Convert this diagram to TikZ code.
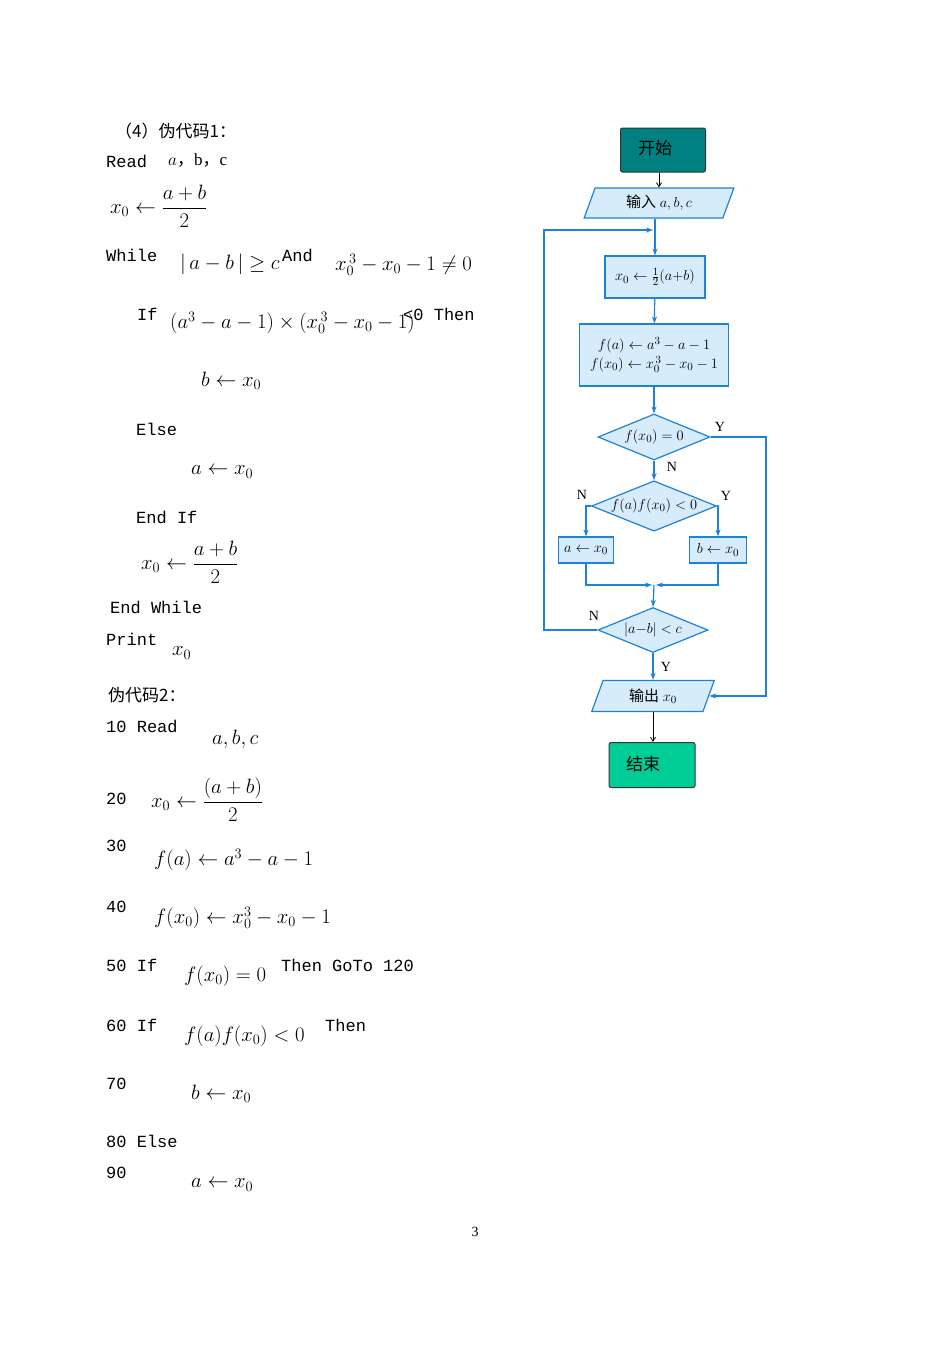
\documentclass[tikz,border=0pt]{standalone}
\usepackage{amsmath}
\usepackage{fontspec}
\setmainfont{Liberation Serif}
\setmonofont{Liberation Mono}
\newfontfamily\cjk{Noto Sans CJK SC}
\usetikzlibrary{shapes.geometric,arrows.meta}
\begin{document}
\begin{tikzpicture}[x=1pt,y=-1pt,
  every node/.style={inner sep=0pt,font=\fontsize{20}{22}\selectfont},
  t/.style={anchor=west},
  kw/.style={anchor=west,font=\fontsize{17}{19}\selectfont\ttfamily},
  fbox/.style={draw=fcl,fill=fbl,line width=1.2pt,inner sep=0pt,font=\fontsize{15}{17}\selectfont},
  fdia/.style={diamond,aspect=2.4,draw=fcl,fill=fbl,line width=1.2pt,inner sep=0pt,font=\fontsize{15}{17}\selectfont},
  fpar/.style={trapezium,trapezium left angle=70,trapezium right angle=110,draw=fcl,fill=fbl,line width=1.2pt,inner sep=0pt,font=\fontsize{15}{17}\selectfont},
  lab/.style={font=\fontsize{14}{16}\selectfont},
  fl/.style={draw=fcl,line width=1.2pt,-{Stealth[length=7pt,width=5pt]}},
  fp/.style={draw=fcl,line width=1.2pt},
  bl/.style={draw=black,line width=0.8pt,-{Straight Barb[length=4pt,width=5pt]}}]
\definecolor{fcl}{RGB}{30,130,215}
\definecolor{fbl}{RGB}{214,236,250}
\useasboundingbox (0,0) rectangle (950,1350);
\fill[white] (0,0) rectangle (950,1350);
% ---- pseudocode 1
\node[t,font=\fontsize{17}{19}\selectfont\cjk] (h1) at (115,131) {（4）伪代码1：};
\node[kw] (r1) at (106,161) {Read};
\node[t,font=\fontsize{17}{19}\selectfont] (r1b) at (168,161) {$a${\cjk ，}b{\cjk ，}c};
\node[t] (l2) at (110,206) {$x_0\leftarrow\dfrac{a+b}{2}$};
\node[kw] (w1) at (106,255) {While};
\node[t] (w2) at (180,264) {$|\,a-b\,|\geq c$};
\node[kw] (w3) at (282,255) {And};
\node[t] (w4) at (335,265) {$x_0^{\,3}-x_0-1\neq 0$};
\node[kw] (i1) at (137,314) {If};
\node[t] (i2) at (170,323) {$(a^3-a-1)\times(x_0^{\,3}-x_0-1)$};
\node[kw] (i3) at (403,314) {<0 Then};
\node[t] (b1) at (201,381) {$b\leftarrow x_0$};
\node[kw] (e1) at (136,429) {Else};
\node[t] (a1) at (191,472) {$a\leftarrow x_0$};
\node[kw] (ei) at (136,517) {End If};
\node[t] (l3) at (141,562) {$x_0\leftarrow\dfrac{a+b}{2}$};
\node[kw] (ew) at (110,607) {End While};
\node[kw] (pr) at (106,639) {Print};
\node[t] (px) at (172,653) {$x_0$};
% ---- pseudocode 2
\node[t,font=\fontsize{17}{19}\selectfont\cjk] (h2) at (108,695) {伪代码2：};
\node[kw] (n10) at (106,726) {10  Read};
\node[t] (n10b) at (212,739) {$a,b,c$};
\node[kw] (n20) at (106,799) {20};
\node[t] (n20b) at (151,800) {$x_0\leftarrow\dfrac{(a+b)}{2}$};
\node[kw] (n30) at (106,846) {30};
\node[t] (n30b) at (154,860) {$f(a)\leftarrow a^3-a-1$};
\node[kw] (n40) at (106,907) {40};
\node[t] (n40b) at (154,918) {$f(x_0)\leftarrow x_0^3-x_0-1$};
\node[kw] (n50) at (106,965) {50  If};
\node[t] (n50b) at (184,976) {$f(x_0)=0$};
\node[kw] (n50c) at (281,965) {Then GoTo 120};
\node[kw] (n60) at (106,1025) {60  If};
\node[t] (n60b) at (184,1036) {$f(a)f(x_0)<0$};
\node[kw] (n60c) at (325,1025) {Then};
\node[kw] (n70) at (106,1084) {70};
\node[t] (n70b) at (191,1094) {$b\leftarrow x_0$};
\node[kw] (n80) at (106,1141) {80  Else};
\node[kw] (n90) at (106,1173) {90};
\node[t] (n90b) at (191,1185) {$a\leftarrow x_0$};
\node[font=\fontsize{14}{16}\selectfont] (pg) at (475,1232) {3};
% ---- flowchart
\node[draw=black!80,fill={rgb,255:red,0;green,128;blue,128},rounded corners=2pt,minimum width=85pt,minimum height=44pt,line width=1pt] (st) at (663,150) {};
\node[font=\fontsize{17}{19}\selectfont\cjk] (stt) at (655,148) {开始};
\node[fpar,minimum width=92pt,minimum height=30pt] (in) at (659,203) {{\cjk 输入} $a,b,c$};
\node[fbox,minimum width=100pt,minimum height=42pt] (p1) at (655,277) {$x_0\leftarrow\frac{1}{2}(a{+}b)$};
\node[fbox,minimum width=149pt,minimum height=62pt,align=center] (p2) at (654,355) {$f(a)\leftarrow a^3-a-1$\\[2pt]$f(x_0)\leftarrow x_0^{\,3}-x_0-1$};
\node[fdia,minimum width=112pt,minimum height=46pt] (d1) at (654,437) {$f(x_0)=0$};
\node[fdia,minimum width=125pt,minimum height=46pt] (d2) at (654,506) {$f(a)f(x_0)<0$};
\node[fbox,minimum width=55pt,minimum height=26pt] (ba) at (586,550) {$a\leftarrow x_0$};
\node[fbox,minimum width=57pt,minimum height=26pt] (bb) at (718,550) {$b\leftarrow x_0$};
\node[fdia,minimum width=110pt,minimum height=45pt] (d3) at (653,630) {$|a{-}b|<c$};
\node[fpar,minimum width=64pt,minimum height=31pt] (out) at (653,696) {{\cjk 输出} $x_0$};
\node[draw=black!80,fill={rgb,255:red,0;green,204;blue,150},rounded corners=2pt,minimum width=86pt,minimum height=45pt,line width=1pt] (en) at (652,765) {};
\node[font=\fontsize{17}{19}\selectfont\cjk] (ent) at (643,764) {结束};
\coordinate (j1) at (655,230);
\coordinate (m) at (654,585);
\coordinate (lc) at (544,230);
\coordinate (rc) at (766,437);
\draw[bl] (st.south -| in.north) -- (in.north);
\draw[fp] (in.south -| j1) -- (j1);
\draw[fl] (j1) -- (p1.north);
\draw[fl] (p1) -- (p2);
\draw[fl] (p2) -- (d1);
\draw[fl] (d1) -- (d2);
\draw[fl] (d2.west) -| (ba.north);
\draw[fl] (d2.east) -| (bb.north);
\draw[fl] (ba.south) |- ([xshift=-2pt]m);
\draw[fl] (bb.south) |- ([xshift=2pt]m);
\draw[fl] (m) -- (d3.north);
\draw[fl] (d3) -- (out);
\draw[fl] (d3.west) -| (lc) -- ([xshift=-2pt]j1);
\draw[fl] (d1.east) -- (d1.east -| rc) |- (out.east);
\draw[bl] (out.south) -- (en.north -| out.south);
\node[lab] (y1) at (720,427) {Y};
\node[lab] (n1) at (672,467) {N};
\node[lab] (n2) at (582,495) {N};
\node[lab] (y2) at (726,496) {Y};
\node[lab] (n3) at (594,616) {N};
\node[lab] (y3) at (666,667) {Y};
\end{tikzpicture}
\end{document}
